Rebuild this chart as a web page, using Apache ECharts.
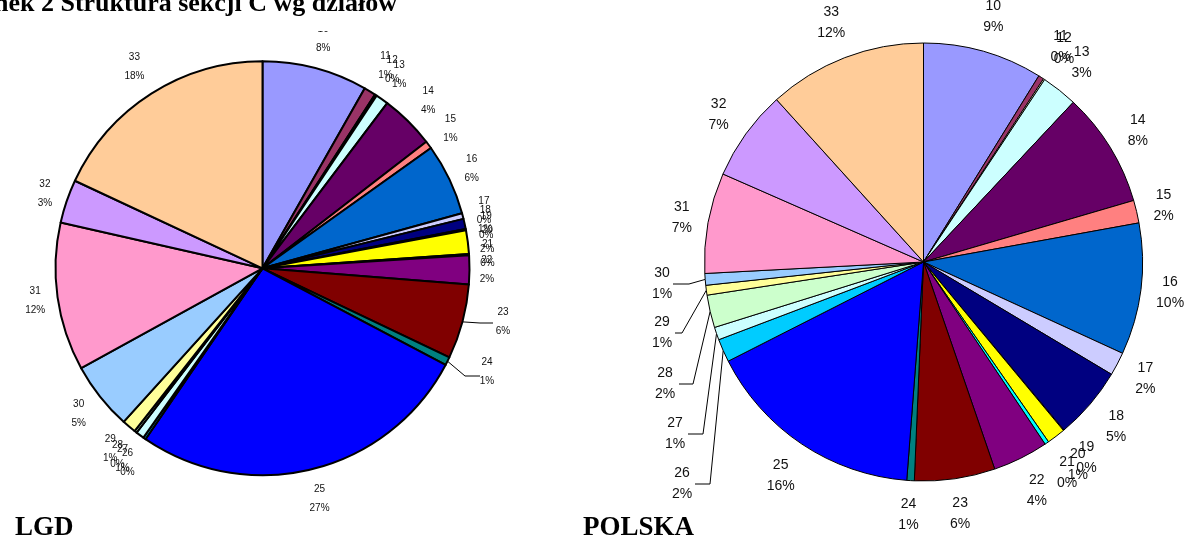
<!DOCTYPE html>
<html>
<head>
<meta charset="utf-8">
<script src="https://cdn.jsdelivr.net/npm/echarts@6/dist/echarts.min.js"></script>
<style>
html,body{margin:0;padding:0;background:#fff;}
#chart{width:1184px;height:541px;}
</style>
</head>
<body>
<div id="chart"></div>
<script>
// ---- data ----
const categories = ['10','11','12','13','14','15','16','17','18','19','20','21','22','23','24','25','26','27','28','29','30','31','32','33'];
const lgdShares = [8.25,0.92,0.15,1.0,4.25,0.6,5.6,0.45,0.8,0.1,1.85,0.1,2.25,5.85,0.65,26.9,0.2,0.65,0.2,1.1,5.3,11.6,3.4,18.1];
const polskaShares = [8.8,0.4,0.1,2.65,8.45,1.67,9.67,1.72,5.33,0.05,1.36,0.3,4.08,5.92,0.55,16.25,1.7,0.94,2.4,0.72,0.86,7.39,6.69,11.67];
const titleText = 'Rysunek 2 Struktura sekcji C wg działów';
const leftCaption = 'LGD';
const rightCaption = 'POLSKA';

// ---- styles ----
const sliceColors = ['#9999FF','#993366','#FFFFCC','#CCFFFF','#660066','#FF8080','#0066CC','#CCCCFF','#000080','#FF00FF','#FFFF00','#00FFFF','#800080','#800000','#008080','#0000FF','#00CCFF','#CCFFFF','#CCFFCC','#FFFF99','#99CCFF','#FF99CC','#CC99FF','#FFCC99'];
const sansFont = '"Liberation Sans", Arial, sans-serif';
const serifFont = '"Liberation Serif", "Times New Roman", serif';

// labels that were dragged by hand in the original, with their leader lines
const lgdMoved = {
  '23': {label:[503,322], bend:[480,323], end:[493,323]},
  '24': {label:[487,372], bend:[465,376], end:[480,376]}
};
const polskaMoved = {
  '30': {label:[662,284], bend:[689,284], end:[673,284]},
  '29': {label:[662,333], bend:[682,333], end:[675,333]},
  '28': {label:[665,384], bend:[693,384], end:[679,384]},
  '27': {label:[675,434], bend:[703,434], end:[688,434]},
  '26': {label:[682,484], bend:[710,484], end:[695,484]}
};

function makeLabelLayout(values, cx, cy, R, gap, moved) {
  const total = values.reduce((s, v) => s + v, 0);
  let acc = 0;
  const mids = values.map(v => { const m = (acc + v / 2) / total * 2 * Math.PI; acc += v; return m; });
  return function (p) {
    const i = p.dataIndex, a = mids[i], s = Math.sin(a), c = Math.cos(a);
    const m = moved[categories[i]];
    if (m) {
      const ex = cx + R * s, ey = cy - R * c;
      return {x: m.label[0], y: m.label[1], align: 'center', verticalAlign: 'middle',
              labelLinePoints: [[ex, ey], m.bend, m.end]};
    }
    const hw = p.labelRect.width / 2, hh = p.labelRect.height / 2;
    const r = R + gap + hw * Math.abs(s) + hh * Math.abs(c);
    return {x: cx + r * s, y: cy - r * c, align: 'center', verticalAlign: 'middle'};
  };
}

function pieSeries(values, cfg) {
  return {
    type: 'pie',
    silent: true,
    center: [cfg.cx, cfg.cy],
    radius: cfg.R,
    startAngle: 90,
    clockwise: true,
    avoidLabelOverlap: false,
    data: categories.map((c, i) => ({
      name: c, value: values[i],
      itemStyle: {color: sliceColors[i]},
      labelLine: {show: !!cfg.moved[c]}
    })),
    itemStyle: {borderColor: '#000', borderWidth: cfg.border},
    label: {
      show: true, position: 'outside',
      formatter: p => p.name + '\n' + Math.round(p.value) + '%',
      fontSize: cfg.fontSize, lineHeight: cfg.lineHeight,
      fontFamily: sansFont, color: '#111'
    },
    labelLine: {show: false, length: 10, length2: 10, lineStyle: {color: '#000', width: 1}},
    labelLayout: makeLabelLayout(values, cfg.cx, cfg.cy, cfg.R, cfg.gap, cfg.moved)
  };
}

const chart = echarts.init(document.getElementById('chart'), null, {renderer: 'canvas', width: 1184, height: 541});
chart.setOption({
  backgroundColor: '#fff',
  animation: false,
  series: [
    pieSeries(lgdShares, {cx: 262.5, cy: 268.3, R: 207, border: 2, fontSize: 10, lineHeight: 19, gap: 10, moved: lgdMoved}),
    pieSeries(polskaShares, {cx: 923.5, cy: 262, R: 219, border: 1, fontSize: 14, lineHeight: 21, gap: 13, moved: polskaMoved})
  ],
  graphic: [
    {type: 'rect', z: 100, shape: {x: 0, y: 0, width: 560, height: 31}, style: {fill: '#fff'}},
    {type: 'text', z: 101, x: 397, y: 4,
     style: {text: titleText, font: 'bold 26px ' + serifFont, fill: '#000', align: 'right', verticalAlign: 'middle', textAlign: 'right', textVerticalAlign: 'middle'}},
    {type: 'text', z: 101, x: 15, y: 528,
     style: {text: leftCaption, font: 'bold 27px ' + serifFont, fill: '#000', align: 'left', verticalAlign: 'middle', textAlign: 'left', textVerticalAlign: 'middle'}},
    {type: 'text', z: 101, x: 583, y: 528,
     style: {text: rightCaption, font: 'bold 27px ' + serifFont, fill: '#000', align: 'left', verticalAlign: 'middle', textAlign: 'left', textVerticalAlign: 'middle'}}
  ]
});
</script>
</body>
</html>
